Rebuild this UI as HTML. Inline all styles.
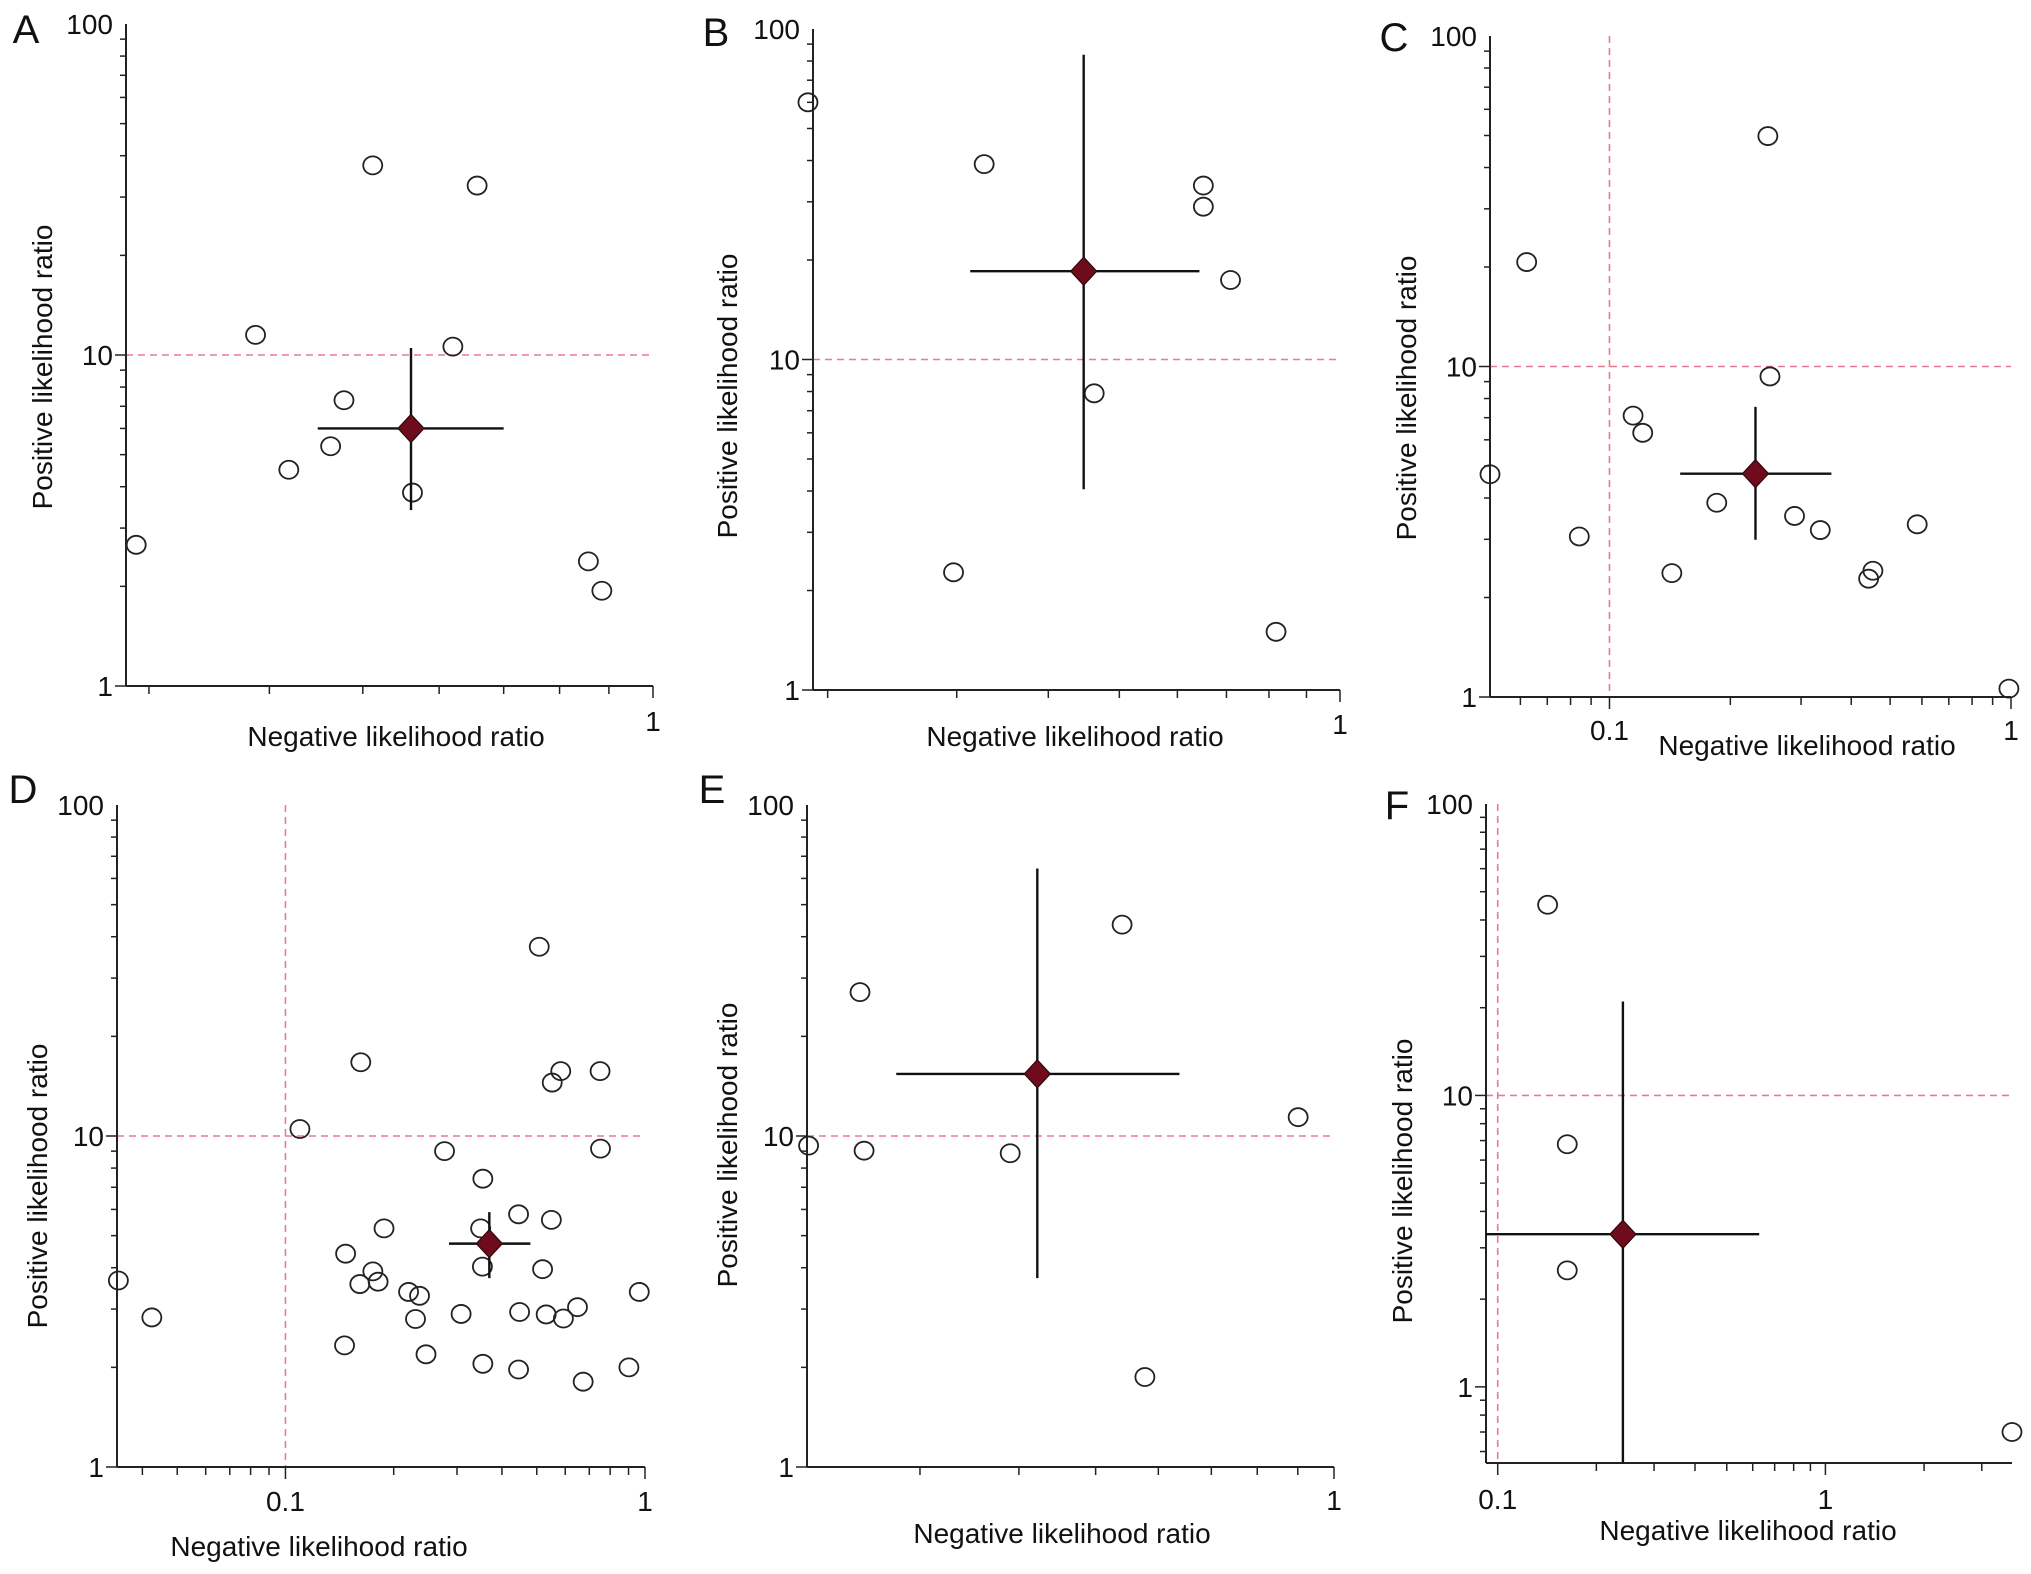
<!DOCTYPE html>
<html><head><meta charset="utf-8"><style>
html,body{margin:0;padding:0;background:#fff;}
svg{display:block;font-family:"Liberation Sans",Arial,sans-serif;}
</style></head><body>
<svg id="fig" width="2031" height="1574" viewBox="0 0 2031 1574" xmlns="http://www.w3.org/2000/svg"></svg>
<script>
// ---- Data (negative LR = x, positive LR = y) ----
const aNLR=[0.291,0.387,0.419,0.463,0.478,0.512,0.563,0.620,0.657,0.857,0.885];
const aPLR=[2.67,11.5,4.5,5.3,7.3,37.4,3.84,10.6,32.5,2.38,1.94];
const aSummary=[0.561,6.0]; const aCIx=[0.449,0.70]; const aCIy=[3.4,10.5];

const bNLR=[0.188,0.327,0.297,0.462,0.651,0.651,0.709,0.818];
const bPLR=[60,39,2.27,7.9,33.6,29,17.4,1.5];
const bSummary=[0.447,18.5]; const bCIx=[0.313,0.643]; const bCIy=[4.05,83.6];

const cNLR=[0.0504,0.0622,0.0841,0.1145,0.121,0.143,0.185,0.248,0.251,0.289,0.335,0.442,0.453,0.584,0.988];
const cPLR=[4.72,20.7,3.06,7.1,6.3,2.37,3.87,49.8,9.33,3.53,3.2,2.28,2.41,3.33,1.06];
const cSummary=[0.231,4.74]; const cCIx=[0.150,0.357]; const cCIy=[2.99,7.55];

const dNLR=[0.0343,0.0425,0.1097,0.147,0.146,0.162,0.161,0.175,0.181,0.188,0.220,0.236,0.230,0.246,0.277,0.308,0.354,0.349,0.353,0.354,0.445,0.448,0.445,0.508,0.519,0.531,0.549,0.552,0.583,0.593,0.649,0.673,0.750,0.752,0.902,0.964];
const dPLR=[3.66,2.83,10.5,4.41,2.33,16.7,3.57,3.9,3.63,5.26,3.38,3.29,2.8,2.19,9.0,2.9,7.43,5.26,4.03,2.05,5.8,2.94,1.97,37.3,3.96,2.89,5.58,14.5,15.7,2.81,3.04,1.81,15.7,9.16,2.0,3.38];
const dSummary=[0.369,4.73]; const dCIx=[0.285,0.480]; const dCIy=[3.72,5.89];

const eNLR=[0.217,0.252,0.255,0.390,0.540,0.577,0.901];
const ePLR=[9.35,27.2,9.03,8.87,43.5,1.87,11.4];
const eSummary=[0.422,15.4]; const eCIx=[0.280,0.638]; const eCIy=[3.72,64.3];

const fNLR=[0.142,0.163,0.163,3.71];
const fPLR=[45.1,6.8,2.51,0.70];
const fSummary=[0.241,3.34]; const fCIx=[0.0921,0.628]; const fCIy=[0.548,21];

const xTickLabelsA=["1"]; const xTickLabelsC=["0.1","1"]; const yTickLabels=["1","10","100"];

const NS="http://www.w3.org/2000/svg";
const svg=document.getElementById('fig');
function mk(tag,attrs,parent){const e=document.createElementNS(NS,tag);for(const k in attrs)e.setAttribute(k,attrs[k]);(parent||svg).appendChild(e);return e;}
const L=Math.log10;

const panels=[
 {id:'a',letter:'A',xs:aNLR,ys:aPLR,sum:aSummary,cix:aCIx,ciy:aCIy,left:126,right:653,top:24,bottom:686,xmin:0.284,xmax:1,ymin:1,ymax:100,vline:false,
  xlab:xTickLabelsA,lett:[26,29],ytit:[42,367],xtit:[396,736],xlabY:721},
 {id:'b',letter:'B',xs:bNLR,ys:bPLR,sum:bSummary,cix:bCIx,ciy:bCIy,left:813,right:1340,top:29,bottom:690,xmin:0.191,xmax:1,ymin:1,ymax:100,vline:false,
  xlab:xTickLabelsA,lett:[716,32],ytit:[727,396],xtit:[1075,736],xlabY:724},
 {id:'c',letter:'C',xs:cNLR,ys:cPLR,sum:cSummary,cix:cCIx,ciy:cCIy,left:1490,right:2011,top:36,bottom:697,xmin:0.0504,xmax:1,ymin:1,ymax:100,vline:true,
  xlab:xTickLabelsC,lett:[1394,37],ytit:[1406,398],xtit:[1807,745],xlabY:730},
 {id:'d',letter:'D',xs:dNLR,ys:dPLR,sum:dSummary,cix:dCIx,ciy:dCIy,left:117,right:645,top:805,bottom:1467,xmin:0.034,xmax:1,ymin:1,ymax:100,vline:true,
  xlab:xTickLabelsC,lett:[23,789],ytit:[37,1186],xtit:[319,1546],xlabY:1501},
 {id:'e',letter:'E',xs:eNLR,ys:ePLR,sum:eSummary,cix:eCIx,ciy:eCIy,left:807,right:1334,top:805,bottom:1467,xmin:0.216,xmax:1,ymin:1,ymax:100,vline:false,
  xlab:xTickLabelsA,lett:[712,789],ytit:[727,1145],xtit:[1062,1533],xlabY:1500},
 {id:'f',letter:'F',xs:fNLR,ys:fPLR,sum:fSummary,cix:fCIx,ciy:fCIy,left:1486,right:2012,top:804,bottom:1463,xmin:0.0921,xmax:3.71,ymin:0.548,ymax:100,vline:true,
  xlab:xTickLabelsC,lett:[1397,805],ytit:[1402,1181],xtit:[1748,1530],xlabY:1499}
];

panels.forEach(p=>{
  const g=mk('g',{});
  
  
  const X=v=>p.left+(L(v)-L(p.xmin))/(L(p.xmax)-L(p.xmin))*(p.right-p.left);
  const Y=v=>p.bottom-(L(v)-L(p.ymin))/(L(p.ymax)-L(p.ymin))*(p.bottom-p.top);
  const hl=mk('line',{x1:p.left,x2:p.right,y1:Y(10),y2:Y(10),stroke:'#e57c93','stroke-width':1.6,'stroke-dasharray':'7,5'},g);
  
  
  if(p.vline){
    const vl=mk('line',{x1:X(0.1),x2:X(0.1),y1:p.top,y2:p.bottom,stroke:'#e57c93','stroke-width':1.6,'stroke-dasharray':'7,5'},g);
    
    
  }
  const ya=mk('line',{x1:p.left,x2:p.left,y1:p.top,y2:p.bottom,stroke:'#222','stroke-width':2},g);
  
  
  const xa=mk('line',{x1:p.left,x2:p.right,y1:p.bottom,y2:p.bottom,stroke:'#222','stroke-width':2},g);
  
  
  for(let d=-1;d<=1;d++){for(let m=1;m<=9;m++){const v=m*Math.pow(10,d);if(v<p.ymin-1e-9||v>p.ymax+1e-9)continue;
    const len=m===1?11:6;const t=mk('line',{x1:p.left-len,x2:p.left,y1:Y(v),y2:Y(v),stroke:'#222','stroke-width':1.5},g);
    
    }}
  yTickLabels.forEach(s=>{const v=+s;if(v<p.ymin||v>p.ymax)return;
    const t=mk('text',{x:p.left-13,y:Y(v)+10,'text-anchor':'end','font-size':28,fill:'#111'},g);t.textContent=s;
    
    });
  for(let d=-2;d<=0;d++){for(let m=1;m<=9;m++){const v=m*Math.pow(10,d);if(v<p.xmin||v>p.xmax*1.0001)continue;
    const len=m===1?12:8;const t=mk('line',{x1:X(v),x2:X(v),y1:p.bottom,y2:p.bottom+len,stroke:'#222','stroke-width':1.5},g);
    
    }}
  p.xlab.forEach(s=>{const v=+s;if(v<p.xmin||v>p.xmax*1.0001)return;
    const t=mk('text',{x:X(v),y:p.xlabY+10,'text-anchor':'middle','font-size':28,fill:'#111'},g);t.textContent=s;
    
    });
  const xt=mk('text',{x:p.xtit[0],y:p.xtit[1]+10,'text-anchor':'middle','font-size':28,fill:'#111'},g);xt.textContent='Negative likelihood ratio';
  
  
  const yt=mk('text',{x:0,y:0,'text-anchor':'middle','font-size':28,fill:'#111',transform:`translate(${p.ytit[0]+10},${p.ytit[1]}) rotate(-90)`},g);yt.textContent='Positive likelihood ratio';
  
  
  const lt=mk('text',{x:p.lett[0],y:p.lett[1]+14,'text-anchor':'middle','font-size':40,fill:'#111'},g);lt.textContent=p.letter;
  
  
  p.xs.forEach((xv,i)=>{const c=mk('ellipse',{cx:X(xv),cy:Y(p.ys[i]),rx:9.5,ry:9,fill:'none',stroke:'#222','stroke-width':1.8},g);
    
    });
  const sx=X(p.sum[0]),sy=Y(p.sum[1]);
  const ch=mk('line',{x1:X(p.cix[0]),x2:X(p.cix[1]),y1:sy,y2:sy,stroke:'#111','stroke-width':2.4},g);
  
  
  const cv=mk('line',{x1:sx,x2:sx,y1:Y(p.ciy[0]),y2:Y(p.ciy[1]),stroke:'#111','stroke-width':2.4},g);
  
  
  const dm=mk('polygon',{points:`${sx},${sy-14} ${sx+13},${sy} ${sx},${sy+14} ${sx-13},${sy}`,fill:'#6e0b1c',stroke:'#2a0a0a','stroke-width':1.2},g);
  
  
});
</script>
</body></html>
